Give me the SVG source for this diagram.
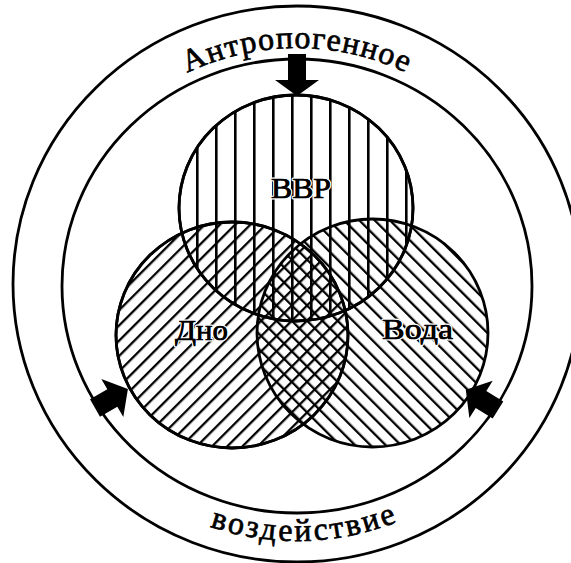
<svg xmlns="http://www.w3.org/2000/svg" xmlns:xlink="http://www.w3.org/1999/xlink" width="571" height="563" viewBox="0 0 571 563">
<style>
.ring{fill:none;stroke:#000;stroke-width:2.8}
.set{stroke:#000;stroke-width:2.8}
.lbl{font-family:"Liberation Serif","Times New Roman",serif;font-size:30px;fill:#000;stroke:#fff;stroke-width:3;paint-order:stroke;stroke-linejoin:round}
.ink{font-family:"Liberation Serif","Times New Roman",serif;font-size:30px;fill:#000;stroke:#000;stroke-width:0.6}
.arc{font-family:"Liberation Serif","Times New Roman",serif;font-size:32px;fill:#000;stroke:#000;stroke-width:0.7}
.arw{fill:#000}
</style>
<defs>
<pattern id="hv" patternUnits="userSpaceOnUse" x="291" y="0" width="19" height="19"><rect x="0" y="0" width="2.6" height="19" fill="#000"/></pattern>
<pattern id="hd" patternUnits="userSpaceOnUse" width="10.8" height="10.8" patternTransform="rotate(45)"><rect x="0" y="0" width="2.3" height="10.8" fill="#000"/></pattern>
<pattern id="hb" patternUnits="userSpaceOnUse" width="10.8" height="10.8" patternTransform="rotate(-45)"><rect x="0" y="0" width="2.3" height="10.8" fill="#000"/></pattern>
<path id="topArc" d="M 51,286 A 246,238 0 0 1 543,286"/>
<path id="botArc" d="M 33,286 A 264,255 0 0 0 561,286"/>
</defs>
<rect width="571" height="563" fill="#fff"/>
<g id="outer-ring">
<ellipse class="ring" cx="297" cy="284" rx="284" ry="278"/>
<text class="arc" letter-spacing="1.2"><textPath href="#topArc" xlink:href="#topArc" startOffset="50%" text-anchor="middle">Антропогенное</textPath></text>
<text class="arc" letter-spacing="2.6"><textPath href="#botArc" xlink:href="#botArc" startOffset="51%" text-anchor="middle">воздействие</textPath></text>
</g>
<g id="inner-ring">
<ellipse class="ring" cx="297" cy="286" rx="235" ry="227"/>
</g>
<g id="node-vvr">
<ellipse class="set" fill="url(#hv)" cx="296" cy="208" rx="117" ry="113"/>
<text class="lbl" x="271" y="198" textLength="60" lengthAdjust="spacingAndGlyphs">ВВР</text>
<text class="ink" x="271" y="198" textLength="60" lengthAdjust="spacingAndGlyphs">ВВР</text>
</g>
<g id="node-dno">
<ellipse class="set" fill="url(#hd)" cx="232" cy="335" rx="116" ry="113"/>
</g>
<g id="node-voda">
<ellipse class="set" fill="url(#hb)" cx="372.5" cy="333" rx="115.5" ry="114"/>
</g>
<g id="outlines">
<ellipse class="set" fill="none" cx="296" cy="208" rx="117" ry="113"/>
<ellipse class="set" fill="none" cx="232" cy="335" rx="116" ry="113"/>
<text class="lbl" x="175" y="340" textLength="53" lengthAdjust="spacingAndGlyphs">Дно</text>
<text class="ink" x="175" y="340" textLength="53" lengthAdjust="spacingAndGlyphs">Дно</text>
<text class="lbl" x="382" y="339" textLength="71" lengthAdjust="spacingAndGlyphs">Вода</text>
<text class="ink" x="382" y="339" textLength="71" lengthAdjust="spacingAndGlyphs">Вода</text>
</g>
<g id="connectors">
<polygon class="arw" points="288,54 306,54 306,80 319,80 297,96 275,80 288,80"/>
<polygon class="arw" transform="translate(95,408) rotate(-30)" points="0,-10 20,-10 20,-22 38,0 20,22 20,10 0,10"/>
<polygon class="arw" transform="translate(498,410) rotate(212)" points="0,-10 20,-10 20,-22 38,0 20,22 20,10 0,10"/>
</g>
</svg>
